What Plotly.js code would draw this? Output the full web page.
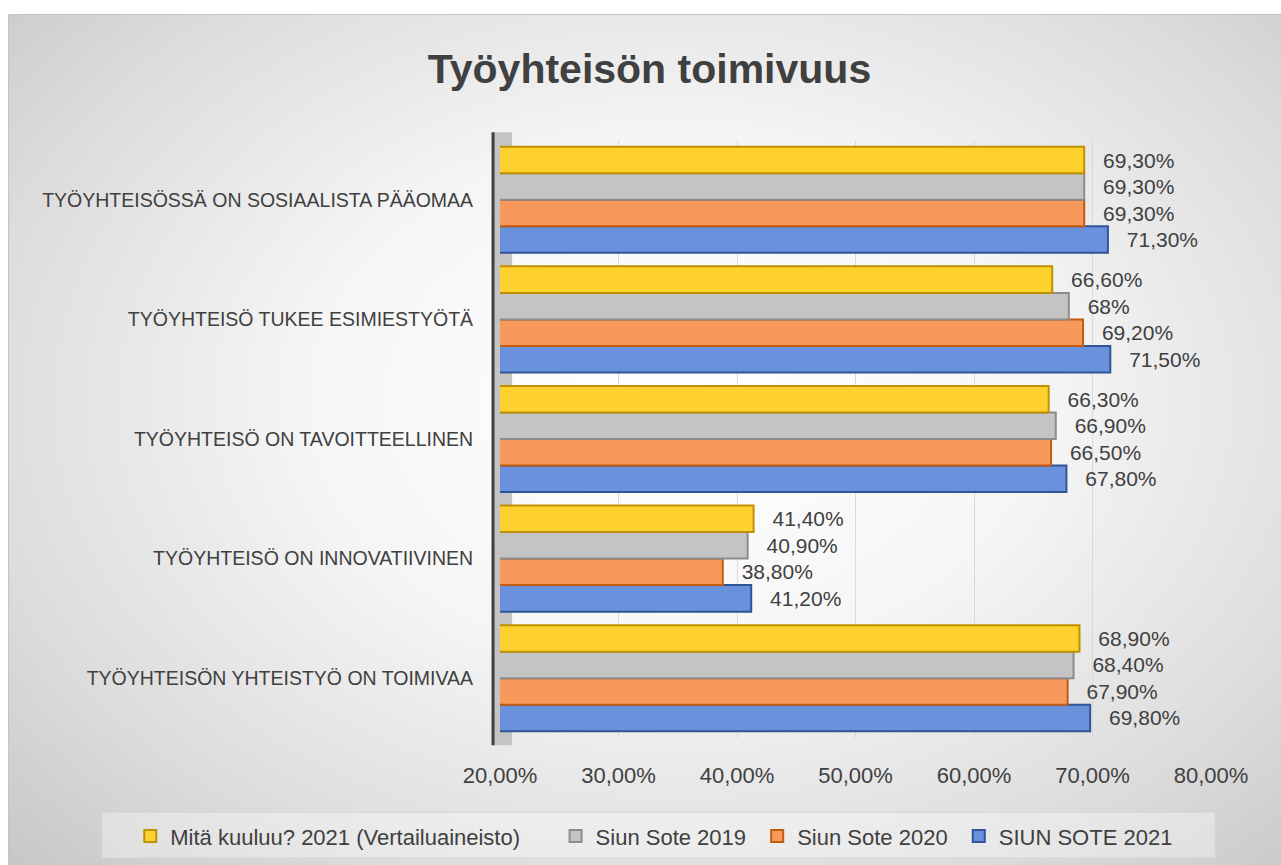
<!DOCTYPE html>
<html><head><meta charset="utf-8">
<script src="https://cdn.plot.ly/plotly-3.0.1.min.js"></script>
<style>
html,body{margin:0;padding:0;background:#fff;width:1281px;height:865px;overflow:hidden}
#bg{position:absolute;left:8px;top:14px;width:1280px;height:860px;border-top:1px solid #c4c4c4;border-left:1px solid #c4c4c4;
background:radial-gradient(ellipse farthest-corner at 52% 45%, #ffffff 0%, #f6f6f6 38%, #dcdcdc 75%, #c6c6c6 100%);}
#chart{position:absolute;left:0;top:0;width:1281px;height:865px}
</style></head>
<body><div id="bg"></div><div id="chart"></div>
<script>
const categories = [
  "TYÖYHTEISÖN YHTEISTYÖ ON TOIMIVAA",
  "TYÖYHTEISÖ ON INNOVATIIVINEN",
  "TYÖYHTEISÖ ON TAVOITTEELLINEN",
  "TYÖYHTEISÖ TUKEE ESIMIESTYÖTÄ",
  "TYÖYHTEISÖSSÄ ON SOSIAALISTA PÄÄOMAA"
];
const seriesNames = ["Mitä kuuluu? 2021 (Vertailuaineisto)", "Siun Sote 2019", "Siun Sote 2020", "SIUN SOTE 2021"];
const mitaKuuluu2021 = [68.9, 41.4, 66.3, 66.6, 69.3];
const siunSote2019   = [68.4, 40.9, 66.9, 68.0, 69.3];
const siunSote2020   = [67.9, 38.8, 66.5, 69.2, 69.3];
const siunSote2021   = [69.8, 41.2, 67.8, 71.5, 71.3];
const xTickValues = [20, 30, 40, 50, 60, 70, 80];
const xTickLabels = ["20,00%", "30,00%", "40,00%", "50,00%", "60,00%", "70,00%", "80,00%"];

const FONT = '"Liberation Sans", Arial, sans-serif';
const TXT = '#404040';

function fmt(v){
  return Number.isInteger(v) ? v + '%' : v.toFixed(2).replace('.', ',') + '%';
}
const pad = '\u00a0\u00a0\u2009';

function mk(name, vals, fill, line, legendPad){
  return {
    type: 'bar', orientation: 'h', name: name + legendPad,
    y: categories, x: vals,
    text: vals.map(v => pad + fmt(v)),
    textposition: 'outside', constraintext: 'none', cliponaxis: false,
    textfont: {family: FONT, size: 21, color: TXT},
    marker: {color: fill, line: {color: line, width: 2}},
    hoverinfo: 'x+y'
  };
}
// first trace is drawn at the bottom of each group
const data = [
  mk(seriesNames[3], siunSote2021, '#6A92DC', '#2F5597', ''),
  mk(seriesNames[2], siunSote2020, '#F7995A', '#C55A11', '\u00a0'),
  mk(seriesNames[1], siunSote2019, '#C4C4C4', '#8C8C8C', '\u00a0'),
  mk(seriesNames[0], mitaKuuluu2021, '#FFD12E', '#BF9000', '\u00a0\u00a0\u00a0\u00a0\u00a0')
];

const layout = {
  width: 1281, height: 865,
  paper_bgcolor: 'rgba(0,0,0,0)', plot_bgcolor: 'rgba(0,0,0,0)',
  margin: {l: 500, r: 70, t: 140, b: 127, autoexpand: false},
  barmode: 'group', bargap: 0.113, bargroupgap: 0,
  font: {family: FONT, color: TXT},
  title: {text: '<b>Työyhteisön toimivuus</b>', x: 0.507, xanchor: 'center', y: 0.921, yanchor: 'middle',
          font: {family: FONT, size: 41, color: TXT}},
  xaxis: {range: [20, 80], tickvals: xTickValues, ticktext: xTickLabels,
          showgrid: true, gridcolor: '#d9d9d9', gridwidth: 1, zeroline: false,
          showline: false, ticks: 'outside', ticklen: 18, tickcolor: 'rgba(0,0,0,0)',
          tickfont: {family: FONT, size: 22, color: TXT}, fixedrange: true},
  yaxis: {type: 'category', categoryorder: 'array', categoryarray: categories,
          range: [-0.5, 4.5], showgrid: false, zeroline: false, showline: false,
          ticks: 'outside', ticklen: 22, tickcolor: 'rgba(0,0,0,0)',
          tickfont: {family: FONT, size: 19.5, color: TXT}, fixedrange: true},
  legend: {orientation: 'h', traceorder: 'reversed', x: -0.52, xanchor: 'left', y: -0.129, yanchor: 'top',
           bgcolor: 'rgba(0,0,0,0)', font: {family: FONT, size: 22, color: TXT}, itemwidth: 30},
  shapes: [
    // legend box
    {type: 'rect', xref: 'paper', yref: 'paper', x0: -0.56, x1: 1.006, y0: -0.124, y1: -0.2007,
     fillcolor: 'rgba(255,255,255,0.35)', line: {color: '#d4d4d4', width: 1}, layer: 'below'},
    // 3D side wall
    {type: 'rect', xref: 'paper', yref: 'paper', x0: -0.0098, x1: 0.017, y0: -0.012, y1: 1.013,
     fillcolor: '#c4c4c4', line: {width: 0}, layer: 'below'},
    // axis line
    {type: 'line', xref: 'paper', yref: 'paper', x0: -0.0098, x1: -0.0098, y0: -0.012, y1: 1.013,
     line: {color: '#404040', width: 3}, layer: 'above'}
  ]
};
Plotly.newPlot('chart', data, layout, {displayModeBar: false, staticPlot: true});
</script></body></html>
